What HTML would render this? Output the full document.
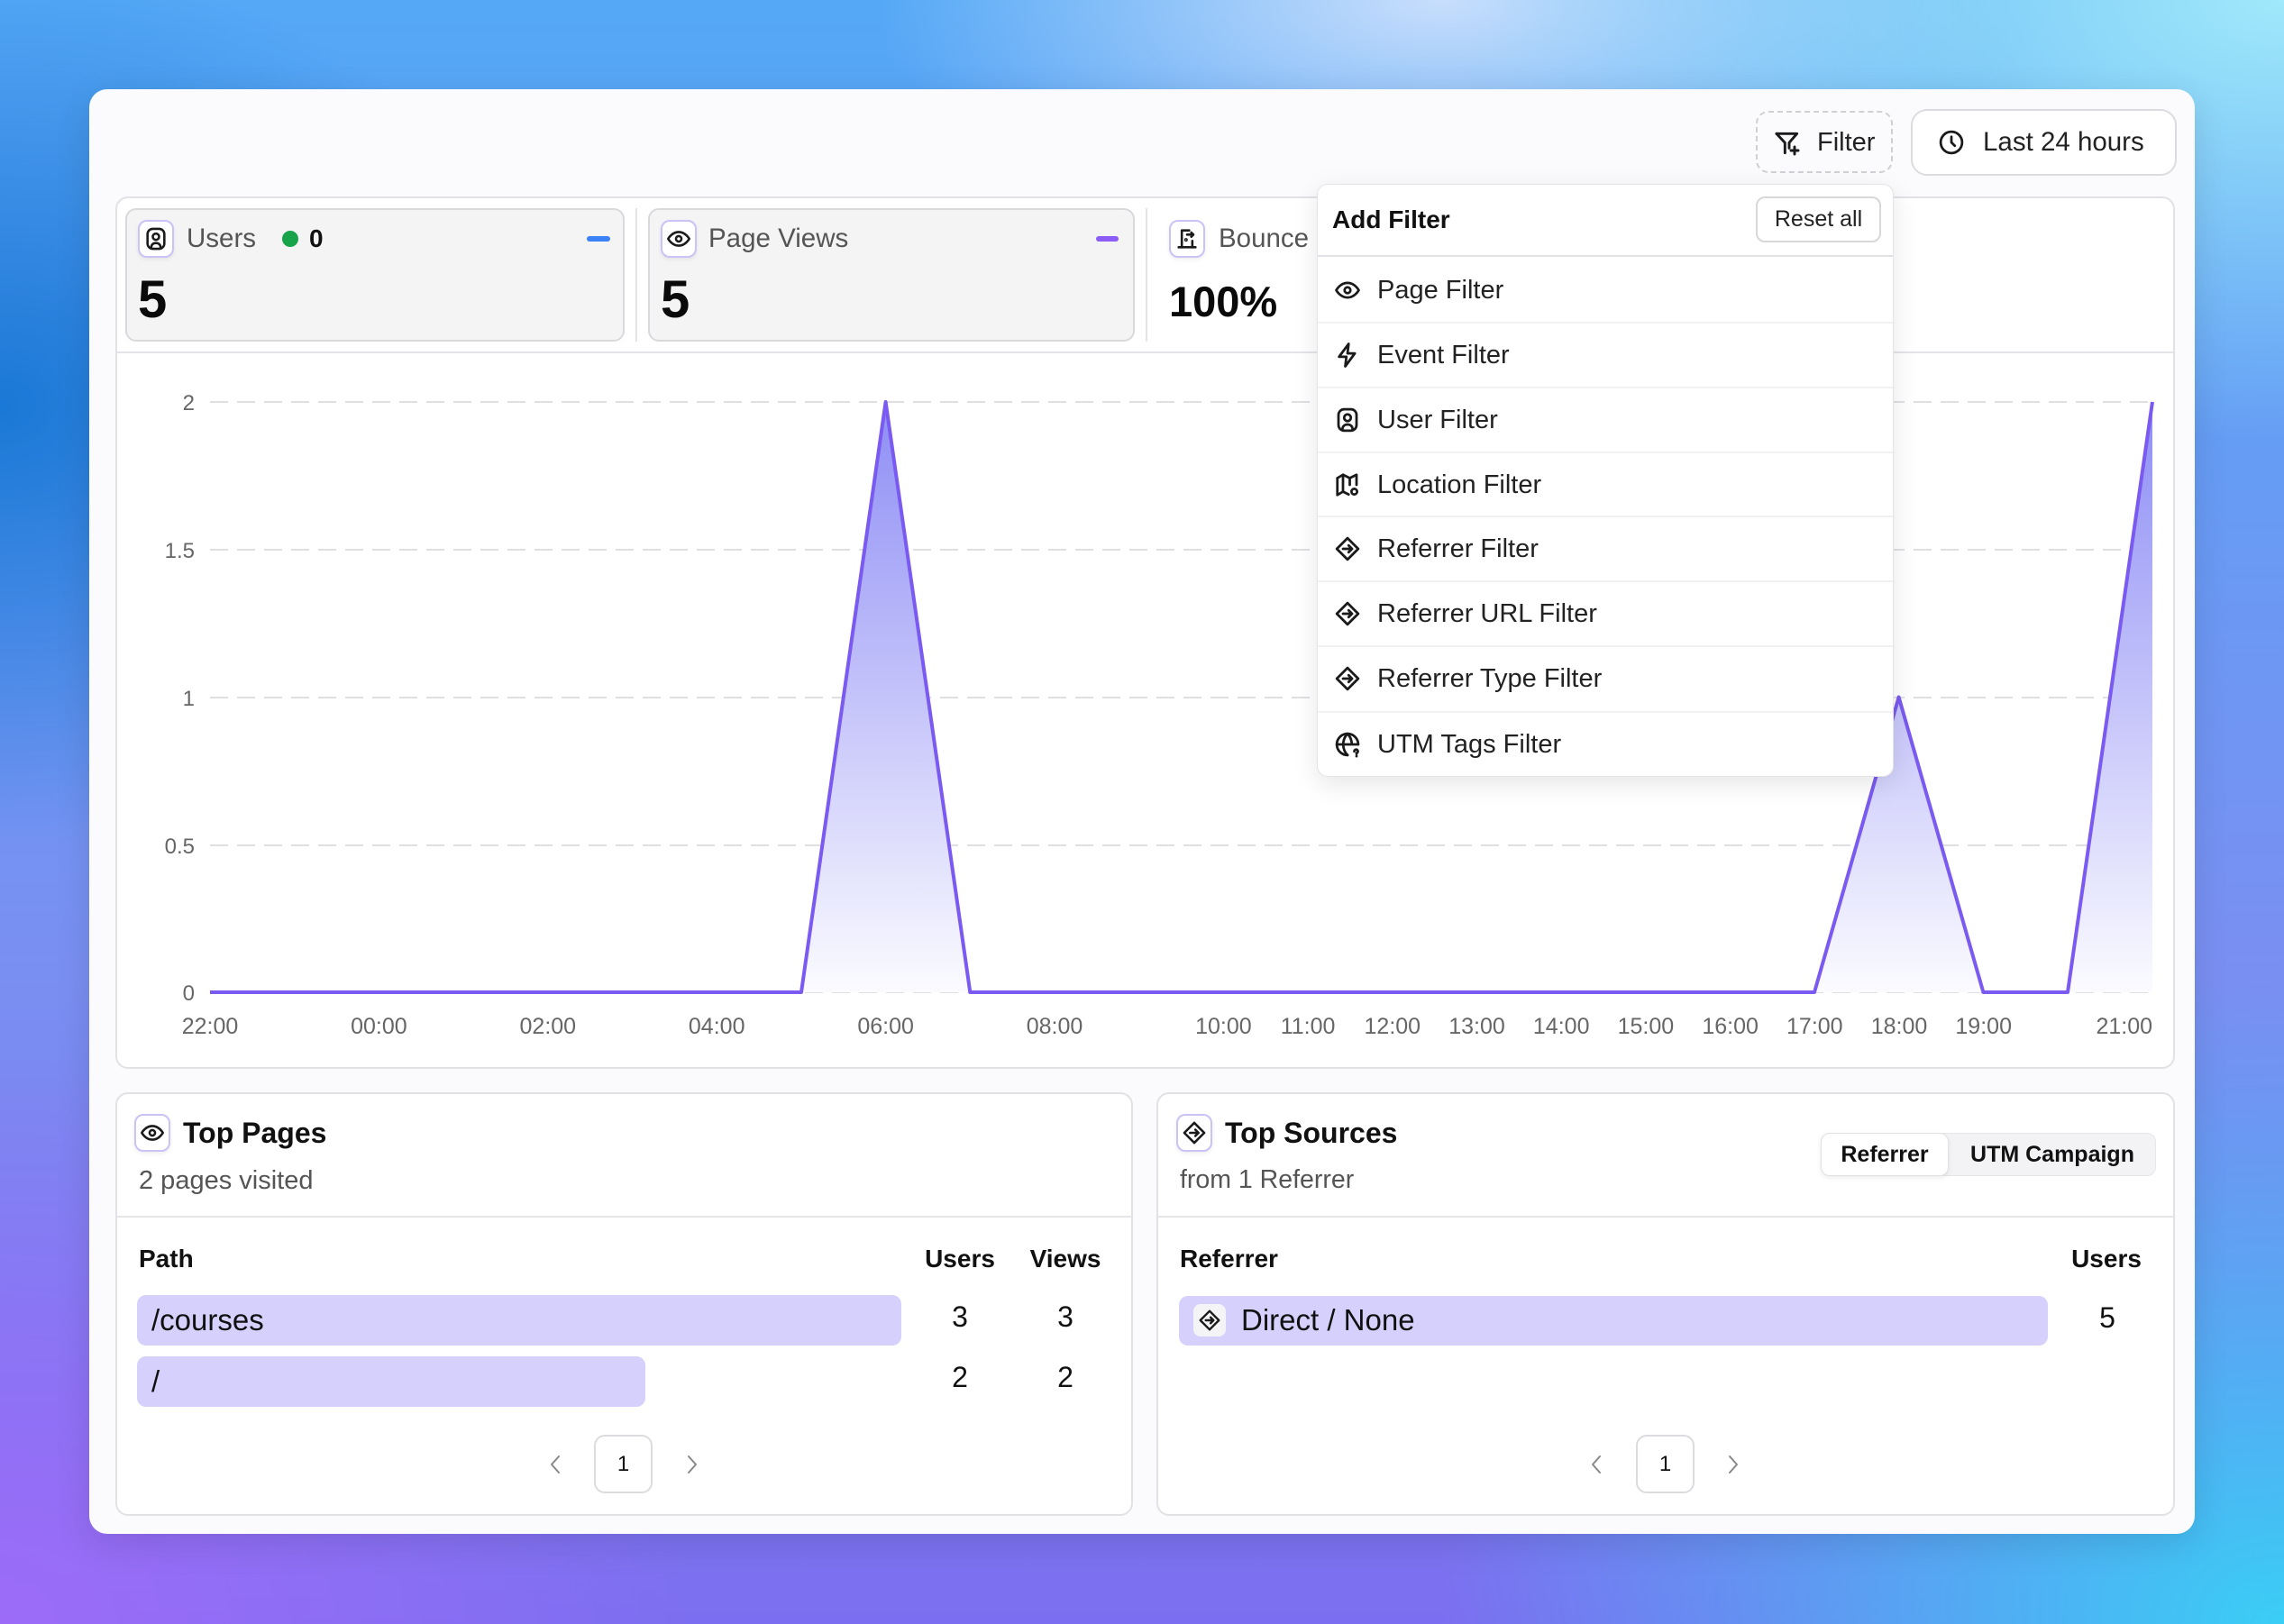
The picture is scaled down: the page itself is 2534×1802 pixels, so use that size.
<!DOCTYPE html>
<html><head><meta charset="utf-8">
<style>
*{box-sizing:border-box;margin:0;padding:0}
html,body{width:2534px;height:1802px;overflow:hidden}
body{position:relative;font-family:"Liberation Sans",Arial,sans-serif;color:#111;
background:
 radial-gradient(ellipse 900px 700px at 0px 450px, rgba(22,118,212,0.95), rgba(22,118,212,0) 70%),
 radial-gradient(ellipse 1100px 900px at 0px 1802px, rgba(156,108,248,1), rgba(156,108,248,0) 70%),
 radial-gradient(ellipse 1300px 1000px at 2534px 1802px, rgba(58,206,245,1), rgba(58,206,245,0) 72%),
 radial-gradient(ellipse 1300px 700px at 2534px 0px, rgba(160,232,250,1), rgba(160,232,250,0) 70%),
 radial-gradient(ellipse 900px 380px at 1600px 0px, rgba(200,222,252,1), rgba(200,222,252,0) 70%),
 linear-gradient(180deg, #54a8f6 0%, #7a8ff2 60%, #7c6ef0 100%);}
.a{position:absolute}
.t{position:absolute;white-space:nowrap;height:40px;line-height:40px}
.ib{position:absolute;width:40px;height:42px;border:2px solid #cbc2f6;border-radius:10px;background:#fff;box-shadow:0 2px 5px rgba(0,0,0,.07);display:flex;align-items:center;justify-content:center}
.ic{position:absolute;display:flex;align-items:center;justify-content:center}
svg.i{fill:none;stroke:#1a1a1a;stroke-width:2.2;stroke-linecap:round;stroke-linejoin:round}
.panel{position:absolute;background:#fff;border:2px solid #e2e2e6;border-radius:14px}
.stat{position:absolute;background:#f4f4f5;border:2px solid #d9d9dd;border-radius:12px}
.sep{position:absolute;background:#e4e4e8}
.item{position:absolute;left:1462px;width:638px;height:72px}
.item .tx{position:absolute;left:66px;top:16px;height:40px;line-height:40px;font-size:29px;color:#222;white-space:nowrap}
.item .ic{left:18px;top:21px;width:30px;height:30px}
.idiv{position:absolute;left:1462px;width:638px;height:2px;background:#f1f1f3}
.bar{position:absolute;background:#d5d0fc;border-radius:10px}
.pg{position:absolute;width:65px;height:65px;border:2px solid #dcdce0;border-radius:12px;background:#fff;text-align:center;line-height:61px;font-size:24px;color:#111}
</style></head><body>

<!-- main card -->
<div class="a" style="left:99px;top:99px;width:2336px;height:1603px;background:#fbfbfd;border-radius:20px;box-shadow:0 10px 40px rgba(0,0,0,.12)"></div>

<!-- Filter button -->
<div class="a" style="left:1948px;top:123px;width:152px;height:69px;border:2px dashed #cfcfd4;border-radius:14px"></div>
<div class="ic" style="left:1967px;top:143px;width:32px;height:32px">
<svg class="i" width="32" height="32" viewBox="0 0 24 24"><path d="M3 4h17l-6.5 7.5V16"/><path d="M10 20v-8.5L3 4"/><path d="M18 15v6M15 18h6"/></svg></div>
<div class="t" style="left:2016px;top:138px;font-size:29px;color:#222">Filter</div>

<!-- Last 24 hours -->
<div class="a" style="left:2120px;top:121px;width:295px;height:74px;border:2px solid #dcdce0;border-radius:18px;background:#fff"></div>
<div class="ic" style="left:2150px;top:143px;width:30px;height:30px">
<svg class="i" width="30" height="30" viewBox="0 0 24 24"><circle cx="12" cy="12" r="9.5"/><path d="M12 7v5l3 3"/></svg></div>
<div class="t" style="left:2200px;top:138px;font-size:29.5px;color:#222">Last 24 hours</div>

<!-- chart panel -->
<div class="panel" style="left:128px;top:218px;width:2285px;height:968px"></div>
<div class="sep" style="left:130px;top:390px;width:2281px;height:2px"></div>

<!-- Users stat -->
<div class="stat" style="left:139px;top:231px;width:554px;height:148px"></div>
<div class="ib" style="left:153px;top:244px">
<svg class="i" width="28" height="28" viewBox="0 0 24 24"><rect x="4" y="2.5" width="16" height="19" rx="5"/><circle cx="12" cy="10" r="3"/><path d="M7.5 20.5c0-3 2-4.5 4.5-4.5s4.5 1.5 4.5 4.5"/></svg></div>
<div class="t" style="left:207px;top:245px;font-size:29.5px;color:#555">Users</div>
<div class="a" style="left:313px;top:256px;width:18px;height:18px;border-radius:50%;background:#16a34a"></div>
<div class="t" style="left:343px;top:245px;font-size:28px;font-weight:bold;color:#111">0</div>
<div class="a" style="left:651px;top:262px;width:26px;height:6px;border-radius:3px;background:#3b82f6"></div>
<div class="t" style="left:153px;top:303px;height:60px;line-height:60px;font-size:58px;font-weight:bold;color:#0a0a0a">5</div>

<div class="sep" style="left:705px;top:231px;width:2px;height:148px"></div>

<!-- Page Views stat -->
<div class="stat" style="left:719px;top:231px;width:540px;height:148px"></div>
<div class="ib" style="left:733px;top:244px">
<svg class="i" width="28" height="28" viewBox="0 0 24 24"><path d="M2 12s3.5-6.5 10-6.5S22 12 22 12s-3.5 6.5-10 6.5S2 12 2 12z"/><circle cx="12" cy="12" r="2.6"/></svg></div>
<div class="t" style="left:786px;top:245px;font-size:29.5px;color:#555">Page Views</div>
<div class="a" style="left:1216px;top:262px;width:25px;height:6px;border-radius:3px;background:#8b5cf6"></div>
<div class="t" style="left:733px;top:303px;height:60px;line-height:60px;font-size:58px;font-weight:bold;color:#0a0a0a">5</div>

<div class="sep" style="left:1271px;top:231px;width:2px;height:148px"></div>

<!-- Bounce -->
<div class="ib" style="left:1297px;top:244px">
<svg class="i" width="28" height="28" viewBox="0 0 24 24"><path d="M14 4H7v16"/><path d="M17 14v6"/><path d="M4 20h16"/><path d="M12 8h6M16 6l2 2-2 2"/><circle cx="11" cy="13" r=".6"/></svg></div>
<div class="t" style="left:1352px;top:245px;font-size:29.5px;color:#555">Bounce</div>
<div class="t" style="left:1297px;top:305px;height:60px;line-height:60px;font-size:47px;font-weight:bold;color:#0a0a0a">100%</div>

<!-- chart svg -->
<svg class="a" style="left:0;top:0" width="2534" height="1802" viewBox="0 0 2534 1802">
<defs>
<linearGradient id="gf" x1="0" y1="446" x2="0" y2="1101" gradientUnits="userSpaceOnUse">
<stop offset="0" stop-color="#8e8ef5"/>
<stop offset="0.5" stop-color="#c4c3fa"/>
<stop offset="1" stop-color="#fbfbff"/>
</linearGradient>
</defs>
<g stroke="#e0e0e4" stroke-width="2" stroke-dasharray="20 10">
<line x1="233" y1="446" x2="2390" y2="446"/>
<line x1="233" y1="610" x2="2390" y2="610"/>
<line x1="233" y1="774" x2="2390" y2="774"/>
<line x1="233" y1="938" x2="2390" y2="938"/>
<line x1="233" y1="1101" x2="2390" y2="1101"/>
</g>
<g font-family="Liberation Sans, Arial, sans-serif" font-size="24" fill="#666" text-anchor="end">
<text x="216" y="455">2</text>
<text x="216" y="619">1.5</text>
<text x="216" y="783">1</text>
<text x="216" y="947">0.5</text>
<text x="216" y="1110">0</text>
</g>
<polygon fill="url(#gf)" points="889,1101 982.6,446 1076.3,1101"/>
<polygon fill="url(#gf)" points="2013,1101 2106.6,773.5 2200.4,1101"/>
<polygon fill="url(#gf)" points="2294,1101 2388,446 2388,1101"/>
<polyline fill="none" stroke="#7a5af0" stroke-width="4" stroke-linejoin="round" points="233,1101 889,1101 982.6,446 1076.3,1101 2013,1101 2106.6,773.5 2200.4,1101 2294,1101 2388,446"/>
<g font-family="Liberation Sans, Arial, sans-serif" font-size="25" fill="#666" text-anchor="middle">
<text x="233" y="1147">22:00</text>
<text x="420.4" y="1147">00:00</text>
<text x="607.8" y="1147">02:00</text>
<text x="795.2" y="1147">04:00</text>
<text x="982.6" y="1147">06:00</text>
<text x="1170" y="1147">08:00</text>
<text x="1357.4" y="1147">10:00</text>
<text x="1451.1" y="1147">11:00</text>
<text x="1544.8" y="1147">12:00</text>
<text x="1638.5" y="1147">13:00</text>
<text x="1732.2" y="1147">14:00</text>
<text x="1825.9" y="1147">15:00</text>
<text x="1919.6" y="1147">16:00</text>
<text x="2013.3" y="1147">17:00</text>
<text x="2107" y="1147">18:00</text>
<text x="2200.7" y="1147">19:00</text>
<text x="2388" y="1147" text-anchor="end">21:00</text>
</g>
</svg>

<!-- Dropdown -->
<div class="a" style="left:1461px;top:204px;width:640px;height:658px;background:#fff;border:1px solid #e4e4e8;border-radius:12px;box-shadow:0 8px 28px rgba(0,0,0,.10)"></div>
<div class="t" style="left:1478px;top:224px;font-size:28px;font-weight:bold;color:#111">Add Filter</div>
<div class="a" style="left:1948px;top:218px;width:139px;height:51px;border:2px solid #d8d8dc;border-radius:10px;background:#fff;text-align:center;line-height:47px;font-size:25px;color:#222">Reset all</div>
<div class="a" style="left:1462px;top:283px;width:638px;height:2px;background:#e2e2e6"></div>

<div class="item" style="top:286px"><div class="ic"><svg class="i" width="30" height="30" viewBox="0 0 24 24"><path d="M2 12s3.5-6.5 10-6.5S22 12 22 12s-3.5 6.5-10 6.5S2 12 2 12z"/><circle cx="12" cy="12" r="2.6"/></svg></div><div class="tx">Page Filter</div></div>
<div class="idiv" style="top:357px"></div>
<div class="item" style="top:358px"><div class="ic"><svg class="i" width="30" height="30" viewBox="0 0 24 24"><path d="M13 2 4.5 13.5H11L10 22l8.5-11.5H12L13 2z"/></svg></div><div class="tx">Event Filter</div></div>
<div class="idiv" style="top:429px"></div>
<div class="item" style="top:430px"><div class="ic"><svg class="i" width="30" height="30" viewBox="0 0 24 24"><rect x="4" y="2.5" width="16" height="19" rx="5"/><circle cx="12" cy="10" r="3"/><path d="M7.5 20.5c0-3 2-4.5 4.5-4.5s4.5 1.5 4.5 4.5"/></svg></div><div class="tx">User Filter</div></div>
<div class="idiv" style="top:501px"></div>
<div class="item" style="top:502px"><div class="ic"><svg class="i" width="30" height="30" viewBox="0 0 24 24"><path d="M3 6l5-3 6 3 6-3v9"/><path d="M3 6v15l5-3 5 2.5"/><path d="M8 3v15M14 6v6"/><circle cx="18" cy="18" r="2.5"/></svg></div><div class="tx">Location Filter</div></div>
<div class="idiv" style="top:572px"></div>
<div class="item" style="top:573px"><div class="ic"><svg class="i" width="30" height="30" viewBox="0 0 24 24"><path d="M12 2.5l9.5 9.5-9.5 9.5L2.5 12z"/><path d="M8 12h8M13 9l3 3-3 3"/></svg></div><div class="tx">Referrer Filter</div></div>
<div class="idiv" style="top:644px"></div>
<div class="item" style="top:645px"><div class="ic"><svg class="i" width="30" height="30" viewBox="0 0 24 24"><path d="M12 2.5l9.5 9.5-9.5 9.5L2.5 12z"/><path d="M8 12h8M13 9l3 3-3 3"/></svg></div><div class="tx">Referrer URL Filter</div></div>
<div class="idiv" style="top:716px"></div>
<div class="item" style="top:717px"><div class="ic"><svg class="i" width="30" height="30" viewBox="0 0 24 24"><path d="M12 2.5l9.5 9.5-9.5 9.5L2.5 12z"/><path d="M8 12h8M13 9l3 3-3 3"/></svg></div><div class="tx">Referrer Type Filter</div></div>
<div class="idiv" style="top:789px"></div>
<div class="item" style="top:790px"><div class="ic"><svg class="i" width="30" height="30" viewBox="0 0 24 24"><path d="M21.5 12A9.5 9.5 0 1 0 12 21.5"/><path d="M2.5 12h19M12 2.5c2.5 2.6 3.8 6 3.8 9.5M12 2.5C9.5 5.1 8.2 8.5 8.2 12s1.3 6.9 3.8 9.5"/><path d="M18 18.2a1.6 1.6 0 1 1 2 1.5v.8M20 22.5h.01"/></svg></div><div class="tx">UTM Tags Filter</div></div>

<!-- Top Pages -->
<div class="panel" style="left:128px;top:1212px;width:1129px;height:470px"></div>
<div class="ib" style="left:149px;top:1236px">
<svg class="i" width="28" height="28" viewBox="0 0 24 24"><path d="M2 12s3.5-6.5 10-6.5S22 12 22 12s-3.5 6.5-10 6.5S2 12 2 12z"/><circle cx="12" cy="12" r="2.6"/></svg></div>
<div class="t" style="left:203px;top:1237px;font-size:32px;font-weight:bold;color:#111">Top Pages</div>
<div class="t" style="left:154px;top:1290px;font-size:29px;color:#555">2 pages visited</div>
<div class="sep" style="left:130px;top:1349px;width:1125px;height:2px;background:#e6e6ea"></div>
<div class="t" style="left:154px;top:1377px;font-size:28px;font-weight:bold;color:#111">Path</div>
<div class="t" style="left:1015px;top:1377px;width:100px;text-align:center;font-size:28px;font-weight:bold;color:#111">Users</div>
<div class="t" style="left:1132px;top:1377px;width:100px;text-align:center;font-size:28px;font-weight:bold;color:#111">Views</div>
<div class="bar" style="left:152px;top:1437px;width:848px;height:56px"></div>
<div class="bar" style="left:152px;top:1505px;width:564px;height:56px"></div>
<div class="t" style="left:168px;top:1445px;font-size:33px;color:#111">/courses</div>
<div class="t" style="left:168px;top:1513px;font-size:33px;color:#111">/</div>
<div class="t" style="left:1015px;top:1441px;width:100px;text-align:center;font-size:32px;color:#111">3</div>
<div class="t" style="left:1132px;top:1441px;width:100px;text-align:center;font-size:32px;color:#111">3</div>
<div class="t" style="left:1015px;top:1508px;width:100px;text-align:center;font-size:32px;color:#111">2</div>
<div class="t" style="left:1132px;top:1508px;width:100px;text-align:center;font-size:32px;color:#111">2</div>
<div class="ic" style="left:603px;top:1611px;width:26px;height:28px"><svg width="14" height="24" viewBox="0 0 14 24" fill="none" stroke="#888" stroke-width="2" stroke-linecap="round" stroke-linejoin="round"><path d="M11 3 3 12l8 9"/></svg></div>
<div class="pg" style="left:659px;top:1592px">1</div>
<div class="ic" style="left:755px;top:1611px;width:26px;height:28px"><svg width="14" height="24" viewBox="0 0 14 24" fill="none" stroke="#888" stroke-width="2" stroke-linecap="round" stroke-linejoin="round"><path d="M3 3l8 9-8 9"/></svg></div>

<!-- Top Sources -->
<div class="panel" style="left:1283px;top:1212px;width:1130px;height:470px"></div>
<div class="ib" style="left:1305px;top:1236px">
<svg class="i" width="28" height="28" viewBox="0 0 24 24"><path d="M12 2.5l9.5 9.5-9.5 9.5L2.5 12z"/><path d="M8 12h8M13 9l3 3-3 3"/></svg></div>
<div class="t" style="left:1359px;top:1237px;font-size:32px;font-weight:bold;color:#111">Top Sources</div>
<div class="t" style="left:1309px;top:1289px;font-size:28.5px;color:#555">from 1 Referrer</div>
<div class="a" style="left:2020px;top:1257px;width:372px;height:48px;background:#f3f3f5;border:1px solid #e6e6ea;border-radius:10px"></div>
<div class="a" style="left:2020px;top:1257px;width:142px;height:48px;background:#fff;border:1px solid #e2e2e6;border-radius:10px;box-shadow:0 2px 6px rgba(0,0,0,.08);text-align:center;line-height:46px;font-size:25px;font-weight:bold;color:#111">Referrer</div>
<div class="t" style="left:2162px;top:1261px;width:230px;text-align:center;font-size:25px;font-weight:bold;color:#111">UTM Campaign</div>
<div class="sep" style="left:1285px;top:1349px;width:1126px;height:2px;background:#e6e6ea"></div>
<div class="t" style="left:1309px;top:1377px;font-size:28px;font-weight:bold;color:#111">Referrer</div>
<div class="t" style="left:2287px;top:1377px;width:100px;text-align:center;font-size:28px;font-weight:bold;color:#111">Users</div>
<div class="bar" style="left:1308px;top:1438px;width:964px;height:55px"></div>
<div class="a" style="left:1324px;top:1447px;width:36px;height:36px;background:#f4f4f7;border-radius:8px;display:flex;align-items:center;justify-content:center">
<svg class="i" width="26" height="26" viewBox="0 0 24 24"><path d="M12 2.5l9.5 9.5-9.5 9.5L2.5 12z"/><path d="M8 12h8M13 9l3 3-3 3"/></svg></div>
<div class="t" style="left:1377px;top:1445px;font-size:33px;color:#111">Direct / None</div>
<div class="t" style="left:2288px;top:1442px;width:100px;text-align:center;font-size:32px;color:#111">5</div>
<div class="ic" style="left:1758px;top:1611px;width:26px;height:28px"><svg width="14" height="24" viewBox="0 0 14 24" fill="none" stroke="#888" stroke-width="2" stroke-linecap="round" stroke-linejoin="round"><path d="M11 3 3 12l8 9"/></svg></div>
<div class="pg" style="left:1815px;top:1592px">1</div>
<div class="ic" style="left:1910px;top:1611px;width:26px;height:28px"><svg width="14" height="24" viewBox="0 0 14 24" fill="none" stroke="#888" stroke-width="2" stroke-linecap="round" stroke-linejoin="round"><path d="M3 3l8 9-8 9"/></svg></div>

</body></html>
